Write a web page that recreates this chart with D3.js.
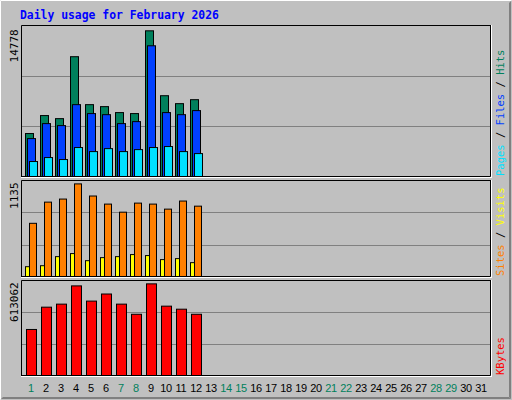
<!DOCTYPE html><html><head><meta charset="utf-8"><script src="https://cdn.jsdelivr.net/npm/d3@7"></script>
<style>body{margin:0;background:#fff}</style></head><body><svg id="c" width="512" height="400"></svg>
<script>
const days = d3.range(1,32);
const weekend = [1,7,8,14,15,21,22,28,29];
const hits  = [4430,6240,5930,12170,7340,7140,6540,6440,14778,8240,7440,7840];
const files = [3920,5430,5230,7340,6440,6330,5430,5630,13270,6540,6330,6740];
const pages = [1610,2010,1810,3020,2610,2910,2610,2810,3020,3120,2610,2410];
const visitsBig = [657,914,951,1135,988,890,792,902,890,829,927,865];
const sitesSmall = [131,143,253,290,204,241,253,278,266,217,229,180];
const kbytes = [311200,458800,478900,599600,499000,545900,478900,411800,613062,465500,445400,411800];
const maxLabels = ["14778","1135","613062"];

const svg = d3.select("#c");
const mono = "'DejaVu Sans Mono', monospace";
svg.append("rect").attr("width",512).attr("height",400).attr("fill","#c0c0c0");
svg.append("path").attr("d","M0.5,399.5V0.5H511.5").attr("stroke","#fff").attr("fill","none");
svg.append("path").attr("d","M1.5,398.5H510.5V1.5").attr("stroke","#808080").attr("fill","none");
svg.append("path").attr("d","M2.5,397.5H509.5V2.5").attr("stroke","#808080").attr("fill","none");
svg.append("path").attr("d","M3.5,397.5H508.5").attr("stroke","#808080").attr("fill","none");
svg.append("text").attr("x",20).attr("y",19).attr("fill","#0000ff").attr("font-family",mono)
  .attr("font-weight","bold").attr("font-size",11.4).text("Daily usage for February 2026");

const x = d3.scaleLinear().domain([1,32]).range([25,490]);
const L=21,R=491;
function panel(y0,y1,series,maxv,label,labels){
  svg.append("rect").attr("x",L).attr("y",y0).attr("width",R-L).attr("height",y1-y0).attr("fill","#c0c0c0");
  const y = d3.scaleLinear().domain([0,maxv/0.965]).range([y1,y0]);
  [1/3,2/3].forEach(f=>{const gy=Math.round(y1-(y1-y0)*f)+0.5;
    svg.append("line").attr("x1",L).attr("x2",R).attr("y1",gy).attr("y2",gy).attr("stroke","#808080");});
  series.forEach(s=>{
    svg.append("g").selectAll("rect").data(s.data).join("rect")
      .attr("x",(d,i)=>x(i+1)+s.off+0.5).attr("width",s.w)
      .attr("y",d=>y(d)+0.5).attr("height",d=>y1-y(d)-1)
      .attr("fill",s.color).attr("stroke","#000");
  });
  svg.append("path").attr("d",`M${L+0.5},${y1}V${y0+0.5}H${R}`).attr("stroke","#000").attr("fill","none");
  svg.append("path").attr("d",`M${L},${y1-0.5}H${R-0.5}V${y0}`).attr("stroke","#000").attr("fill","none");
  svg.append("line").attr("x1",L).attr("x2",R+1).attr("y1",y1+0.5).attr("y2",y1+0.5).attr("stroke","#fff");
  svg.append("line").attr("x1",R+0.5).attr("x2",R+0.5).attr("y1",y0).attr("y2",y1+1).attr("stroke","#fff");
  svg.append("text").attr("transform",`translate(18,${y(maxv)-1}) rotate(-90)`).attr("text-anchor","end")
    .attr("font-family",mono).attr("font-size",11).attr("fill","#000").text(label);
  const t = svg.append("text").attr("transform",`translate(504,${y1-1}) rotate(-90)`)
    .attr("font-family",mono).attr("font-size",10.5).attr("xml:space","preserve");
  labels.forEach((l,i)=>{ if(i) t.append("tspan").attr("fill","#000").text("\u00a0/\u00a0");
    t.append("tspan").attr("fill",l[1]).text(l[0]); });
}
panel(25,177,[{data:hits,off:0,w:8,color:"#00805c"},{data:files,off:2,w:8,color:"#0040ff"},{data:pages,off:4,w:8,color:"#00e0ff"}],
  14778,maxLabels[0],[["Pages","#00e0ff"],["Files","#0040ff"],["Hits","#00805c"]]);
panel(180,277,[{data:sitesSmall,off:0,w:4,color:"#ffff00"},{data:visitsBig,off:4,w:7,color:"#ff8000"}],
  1135,maxLabels[1],[["Sites","#ff8000"],["Visits","#ffff00"]]);
panel(280,376,[{data:kbytes,off:1,w:10,color:"#ff0000"}],613062,maxLabels[2],[["KBytes","#ff0000"]]);
svg.append("g").selectAll("text").data(days).join("text")
  .attr("x",d=>x(d)+6).attr("y",392).attr("text-anchor","middle").attr("font-family","'Liberation Sans', sans-serif")
  .attr("font-size",11).attr("letter-spacing",-0.3).attr("fill",d=>weekend.includes(d)?"#00805c":"#000").text(d=>d);
</script></body></html>
